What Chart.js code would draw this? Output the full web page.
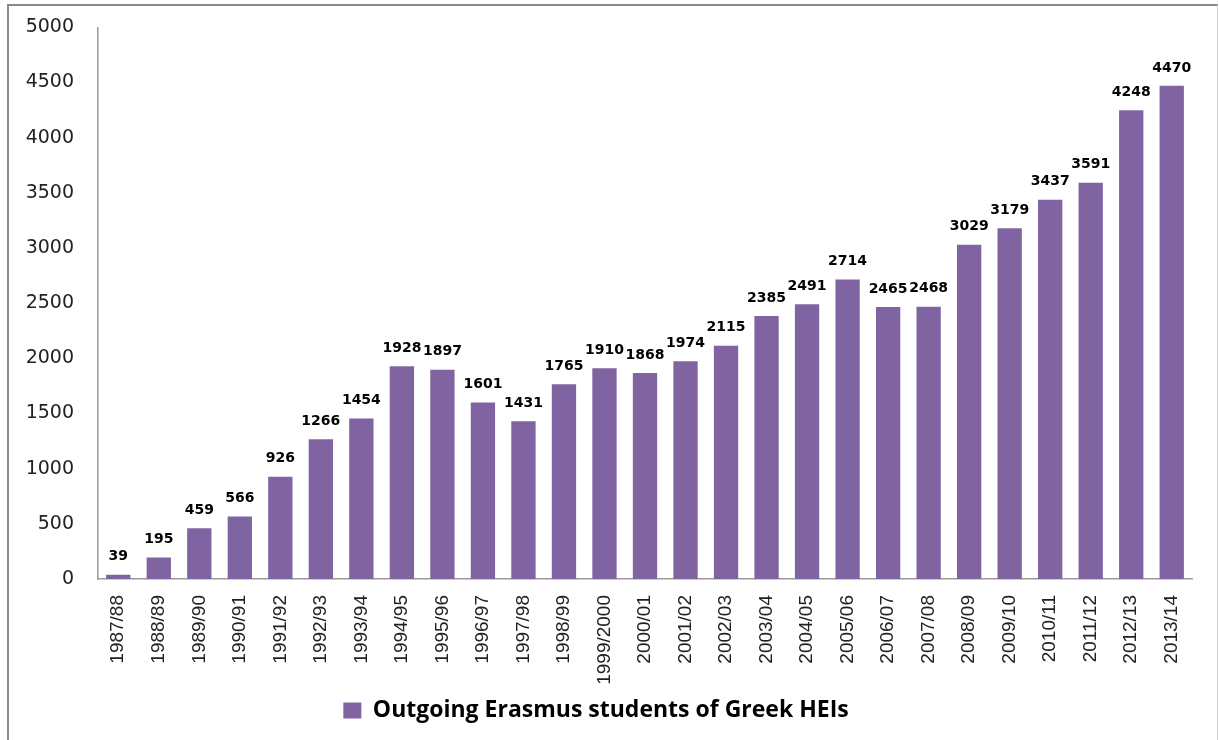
<!DOCTYPE html>
<html>
<head>
<meta charset="utf-8">
<script src="https://cdn.jsdelivr.net/npm/chart.js@4.4.1/dist/chart.umd.min.js"></script>
<style>
  html, body { margin: 0; padding: 0; background: #fff; overflow: hidden; }
  #frame {
    position: absolute; left: 7px; top: 4px; width: 1208px; height: 760px;
    border-left: 2px solid #8a8a8a; border-top: 2px solid #8a8a8a; border-right: 1px solid #cfcfcf;
  }
  #wrap { position: absolute; left: 0; top: 0; width: 1219px; height: 740px; }
</style>
</head>
<body>
<div id="frame"></div>
<div id="wrap"><canvas id="grafico" width="1219" height="740"></canvas></div>
<script>
// datos
var anios = ['1987/88', '1988/89', '1989/90', '1990/91', '1991/92', '1992/93', '1993/94', '1994/95',
  '1995/96', '1996/97', '1997/98', '1998/99', '1999/2000', '2000/01', '2001/02', '2002/03', '2003/04',
  '2004/05', '2005/06', '2006/07', '2007/08', '2008/09', '2009/10', '2010/11', '2011/12', '2012/13', '2013/14'];
var estudiantes = [39, 195, 459, 566, 926, 1266, 1454, 1928, 1897, 1601, 1431, 1765, 1910, 1868, 1974,
  2115, 2385, 2491, 2714, 2465, 2468, 3029, 3179, 3437, 3591, 4248, 4470];
var nombreSerie = 'Outgoing Erasmus students of Greek HEIs';
var marcasY = [0, 500, 1000, 1500, 2000, 2500, 3000, 3500, 4000, 4500, 5000];

// etiquetas encima de cada barra
var etiquetasBarras = {
    id: 'etiquetasBarras',
    afterDatasetsDraw: function (chart) {
        var ctx = chart.ctx;
        var meta = chart.getDatasetMeta(0);
        ctx.save();
        ctx.font = 'bold 14px "DejaVu Sans"';
        ctx.fillStyle = '#000';
        ctx.textAlign = 'center';
        ctx.textBaseline = 'bottom';
        meta.data.forEach(function (bar, i) {
            ctx.fillText(String(estudiantes[i]), bar.x, bar.y - 11);
        });
        ctx.restore();
    }
};

const ctx = document.getElementById('grafico').getContext('2d');

var chart = new Chart(ctx, {
    type: 'bar',
    data: {
        labels: anios,
        datasets: [{
            label: nombreSerie,
            backgroundColor: '#8064A2',
            borderWidth: 0,
            categoryPercentage: 1,
            barPercentage: 0.6,
            data: estudiantes
        }]
    },
    options: {
        responsive: false,
        animation: false,
        devicePixelRatio: 1,
        layout: {
            padding: { top: 20, right: 27, left: 0, bottom: 8 }
        },
        scales: {
            x: {
                grid: { display: false },
                border: { display: true, color: '#9a9a9a', width: 1.5 },
                ticks: {
                    maxRotation: 90,
                    minRotation: 90,
                    autoSkip: false,
                    padding: 8,
                    color: '#222',
                    font: { family: '"Liberation Sans"', size: 19 }
                },
                afterFit: function (scale) { scale.height = 110; }
            },
            y: {
                min: 0,
                max: 5000,
                grid: { display: false },
                border: { display: true, color: '#9a9a9a', width: 1.5 },
                afterBuildTicks: function (scale) {
                    scale.ticks = marcasY.map(function (v) { return { value: v }; });
                },
                ticks: {
                    padding: 16,
                    color: '#222',
                    font: { family: '"DejaVu Sans"', size: 19 },
                    callback: function (v) { return String(v); }
                },
                afterFit: function (scale) { scale.width = 98; }
            }
        },
        plugins: {
            tooltip: { enabled: false },
            legend: {
                position: 'bottom',
                labels: {
                    boxWidth: 18,
                    boxHeight: 16,
                    padding: 10,
                    color: '#000',
                    font: { family: '"Open Sans"', size: 23, weight: 'bold' }
                }
            }
        }
    },
    plugins: [etiquetasBarras]
});
</script>
</body>
</html>
